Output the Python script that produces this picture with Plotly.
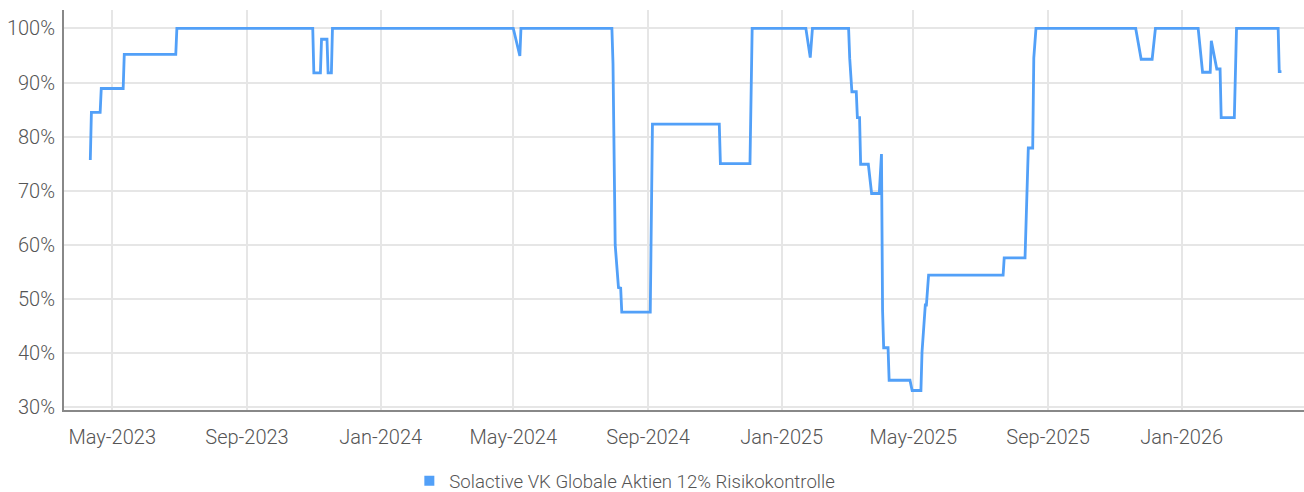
import plotly.graph_objects as go

dates = [
    "2023-04-11", "2023-04-12", "2023-04-20", "2023-04-21", "2023-05-11", "2023-05-12",
    "2023-06-28", "2023-06-29", "2023-10-31", "2023-11-01", "2023-11-07", "2023-11-08",
    "2023-11-13", "2023-11-14", "2023-11-17", "2023-11-18", "2024-05-01", "2024-05-07",
    "2024-05-08", "2024-07-30", "2024-07-31", "2024-08-02", "2024-08-05", "2024-08-07",
    "2024-08-08", "2024-09-03", "2024-09-05", "2024-11-05", "2024-11-06", "2024-12-03",
    "2024-12-05", "2025-01-23", "2025-01-27", "2025-01-29", "2025-03-03", "2025-03-04",
    "2025-03-06", "2025-03-10", "2025-03-11", "2025-03-13", "2025-03-14", "2025-03-21",
    "2025-03-24", "2025-03-31", "2025-04-02", "2025-04-03", "2025-04-04", "2025-04-08",
    "2025-04-09", "2025-04-28", "2025-04-30", "2025-05-08", "2025-05-09", "2025-05-12",
    "2025-05-13", "2025-05-15", "2025-07-22", "2025-07-23", "2025-08-11", "2025-08-14",
    "2025-08-18", "2025-08-19", "2025-08-21", "2025-11-20", "2025-11-25", "2025-12-05",
    "2025-12-08", "2026-01-16", "2026-01-20", "2026-01-27", "2026-01-28", "2026-02-02",
    "2026-02-05", "2026-02-06", "2026-02-18", "2026-02-20", "2026-03-30", "2026-03-31",
    "2026-04-02",
]
values = [
    75.7, 84.5, 84.5, 88.9, 88.9, 95.2,
    95.2, 100.0, 100.0, 91.8, 91.8, 98.0,
    98.0, 91.8, 91.8, 100.0, 100.0, 94.9,
    100.0, 100.0, 93.5, 60.0, 52.1, 52.0,
    47.6, 47.6, 82.3, 82.3, 75.0, 75.0,
    100.0, 100.0, 94.6, 100.0, 100.0, 94.5,
    88.3, 88.3, 83.5, 83.5, 74.9, 74.9,
    69.5, 69.5, 76.8, 47.9, 41.0, 41.0,
    35.0, 35.0, 33.1, 33.1, 40.2, 48.9,
    48.9, 54.4, 54.4, 57.6, 57.6, 77.9,
    77.9, 94.5, 100.0, 100.0, 94.3, 94.3,
    100.0, 100.0, 91.9, 91.9, 97.7, 92.5,
    92.5, 83.5, 83.5, 100.0, 100.0, 92.0,
    92.0,
]
series_name = "Solactive VK Globale Aktien 12% Risikokontrolle"
y_ticks = [30, 40, 50, 60, 70, 80, 90, 100]
y_tick_labels = [f"{v}%" for v in y_ticks]

LINE = "#52A0F8"
FONT = "Roboto, sans-serif"
TXT = "#555555"
FS = 20

fig = go.Figure()
fig.add_trace(go.Scatter(
    x=dates, y=values, mode="lines", line=dict(color=LINE, width=2.8),
    showlegend=False, hoverinfo="x+y",
))
fig.add_trace(go.Scatter(
    x=[None], y=[None], mode="markers", name=series_name,
    marker=dict(symbol="square", size=10, color=LINE),
))

fig.update_layout(
    width=1304, height=492,
    margin=dict(l=64, r=0, t=10, b=82),
    paper_bgcolor="white", plot_bgcolor="white",
    font=dict(family=FONT, size=FS, color=TXT, weight=300),
    legend=dict(
        orientation="h", x=0.2785, xanchor="left",
        yref="container", y=0.022, yanchor="middle",
        font=dict(family=FONT, size=18.6, color=TXT, weight=300),
        itemwidth=30, tracegroupgap=0,
    ),
    xaxis=dict(
        type="date",
        range=["2023-03-18", "2026-04-22 14:00"],
        tick0="2023-05-01", dtick="M4", tickformat="%b-%Y",
        showgrid=True, gridcolor="#e6e6e6", gridwidth=2,
        showline=True, linecolor="#888888", linewidth=2,
        ticks="", ticklabelstandoff=8,
        zeroline=False, automargin=False,
    ),
    yaxis=dict(
        range=[29.5, 103.4],
        tickvals=y_ticks, ticktext=y_tick_labels,
        showgrid=True, gridcolor="#e6e6e6", gridwidth=2,
        showline=True, linecolor="#888888", linewidth=2,
        ticks="", ticklabelstandoff=3,
        zeroline=False, automargin=False,
    ),
)

fig.write_html("out.html")
